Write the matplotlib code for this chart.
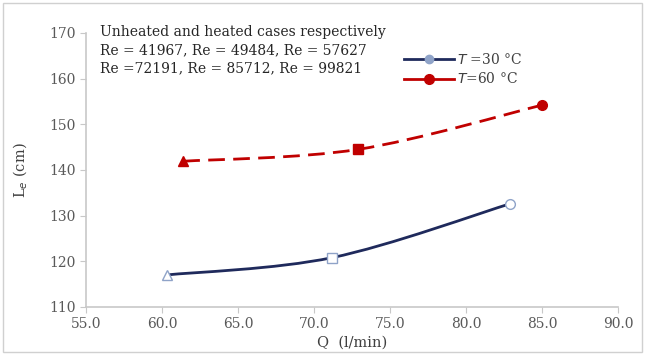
import matplotlib.pyplot as plt
import numpy as np
from matplotlib.path import Path
from matplotlib.patches import PathPatch, Rectangle
from matplotlib.lines import Line2D

# data
q_30 = [60.3, 71.2, 82.9]
le_30 = [117.0, 120.8, 132.6]
q_60 = [61.4, 72.9, 85.0]
le_60 = [141.9, 144.5, 154.2]
point_markers = ["^", "s", "o"]
x_ticks = [55.0, 60.0, 65.0, 70.0, 75.0, 80.0, 85.0, 90.0]
y_ticks = [110, 120, 130, 140, 150, 160, 170]
note_lines = [
    "Unheated and heated cases respectively",
    "Re = 41967, Re = 49484, Re = 57627",
    "Re =72191, Re = 85712, Re = 99821",
]

BLUE = "#1f2a5c"
BLUE_MK = "#8fa3c8"
RED = "#c00000"
SERIF = "DejaVu Serif"
GRAY = "#595959"


def smooth_path(xs, ys):
    # Excel-like smoothed line: Catmull-Rom turned into cubic Bezier segments
    pts = np.column_stack([xs, ys])
    verts = [tuple(pts[0])]
    codes = [Path.MOVETO]
    n = len(pts)
    for i in range(n - 1):
        p0 = pts[i - 1] if i > 0 else pts[i]
        p1 = pts[i]
        p2 = pts[i + 1]
        p3 = pts[i + 2] if i + 2 < n else pts[i + 1]
        c1 = p1 + (p2 - p0) / 6.0
        c2 = p2 - (p3 - p1) / 6.0
        verts += [tuple(c1), tuple(c2), tuple(p2)]
        codes += [Path.CURVE4] * 3
    return Path(verts, codes)


fig = plt.figure(figsize=(6.46, 3.54), dpi=100)
ax = fig.add_axes([0.133, 0.133, 0.824, 0.774])

fig.patches.append(Rectangle((0.004, 0.006), 0.99, 0.985, transform=fig.transFigure,
                             fill=False, edgecolor="#d0d0d0", linewidth=1.0))

ax.add_patch(PathPatch(smooth_path(q_30, le_30), facecolor="none",
                       edgecolor=BLUE, linewidth=2.0, zorder=2))
ax.add_patch(PathPatch(smooth_path(q_60, le_60), facecolor="none",
                       edgecolor=RED, linewidth=2.0, linestyle=(0, (6, 3)), zorder=2))

for x, y, m in zip(q_30, le_30, point_markers):
    ax.plot(x, y, marker=m, markersize=7, markerfacecolor="white",
            markeredgecolor=BLUE_MK, markeredgewidth=1.0, zorder=3)
for x, y, m in zip(q_60, le_60, point_markers):
    ax.plot(x, y, marker=m, markersize=7, markerfacecolor=RED,
            markeredgecolor=RED, zorder=3)

ax.set_xlim(55, 90)
ax.set_ylim(110, 170)
ax.set_xticks(x_ticks)
ax.set_xticklabels([f"{v:.1f}" for v in x_ticks])
ax.set_yticks(y_ticks)
ax.tick_params(axis="both", direction="out", length=4, width=0.8, color="#c8c8c8",
               labelcolor=GRAY, labelsize=10)
for lab in ax.get_xticklabels() + ax.get_yticklabels():
    lab.set_family(SERIF)

for side in ["top", "right"]:
    ax.spines[side].set_visible(False)
for side in ["left", "bottom"]:
    ax.spines[side].set_color("#c8c8c8")
    ax.spines[side].set_linewidth(1.2)

ax.set_xlabel("Q  (l/min)", family=SERIF, fontsize=10.5, color="#404040", labelpad=3)
ax.set_ylabel("L$_e$ (cm)", family=SERIF, fontsize=10.5, color="#404040", labelpad=14)

ax.text(0.027, 1.03, "\n".join(note_lines), transform=ax.transAxes, va="top", ha="left",
        family=SERIF, fontsize=10, color="#262626", linespacing=1.38)

handles = [
    Line2D([], [], color=BLUE, linewidth=2.0, marker="o", markersize=6,
           markerfacecolor=BLUE_MK, markeredgecolor=BLUE_MK),
    Line2D([], [], color=RED, linewidth=2.0, marker="o", markersize=7,
           markerfacecolor=RED, markeredgecolor=RED),
]
labels = ["$T$ =30 °C", "$T$=60 °C"]
leg = ax.legend(handles, labels, loc="upper left", bbox_to_anchor=(0.575, 0.975),
                frameon=False, handlelength=3.6, handletextpad=0.2, labelspacing=0.3,
                prop={"family": SERIF, "size": 10})
for t in leg.get_texts():
    t.set_color("#404040")

fig.savefig("out.png", dpi=100)
